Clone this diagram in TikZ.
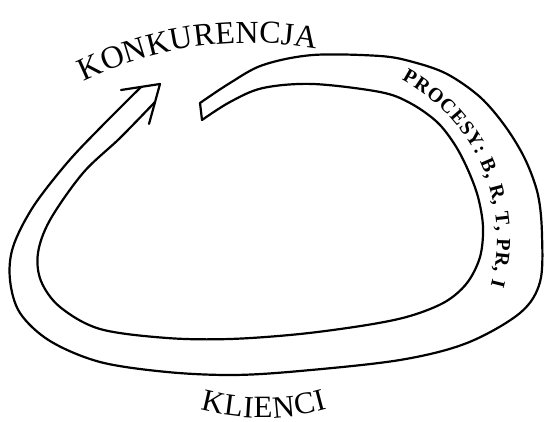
\documentclass[tikz,border=0pt]{standalone}
\usepackage{fontspec}
\setmainfont{Liberation Serif}
\usetikzlibrary{decorations.text}

\begin{document}
\begin{tikzpicture}[x=1pt, y=1pt, band/.style={line width=2.2pt, line join=round, line cap=round},
  curved/.style={decorate, decoration={text along path, text align=fit to path, text={#1}}}]
\useasboundingbox (0,0) rectangle (545,422);
% arrow head and flat tail of the loop
\coordinate (lb) at (121,332);
\coordinate (tip) at (160,338);
\coordinate (rb) at (149,298);
\coordinate (tailo) at (200,319);
\coordinate (taili) at (202,302);
\draw[band] (lb) -- (tip) -- (rb);
\draw[band] (tailo) -- (taili);
% outer and inner edge of the band
\draw[band] plot[smooth, tension=0.55] coordinates {(141,335) (100,294) (67,259) (33,215) (13,175) (10,142) (20,109) (50,81) (100,60) (167,50) (233,47) (300,51) (400,62) (467,79) (520,109) (540,140) (542,187) (538,227) (525,263) (505,296) (480,325) (447,348) (413,360) (380,366) (313,367) (263,357) (230,339) (200,319)};
\draw[band] plot[smooth, tension=0.55] coordinates {(155,320) (120,284) (83,249) (50,202) (38,169) (41,141) (60,115) (100,93) (167,84) (230,83) (300,88) (367,97) (410,106) (445,120) (467,139) (480,165) (483,195) (478,225) (468,252) (455,277) (437,300) (410,319) (380,330) (313,338) (263,334) (230,320) (202,302)};
% labels
\path[curved={|\fontsize{32}{32}\selectfont|KONKURENCJA}] ([shift={(250,0)}]116:379) arc[start angle=116, end angle=80, radius=379];
\path[curved={|\bfseries\fontsize{20}{20}\selectfont|PROCESY: B, R, T, PR, I}] ([shift={(317,183)}]62:180) arc[start angle=62, end angle=-15, radius=180];
\path[curved={|\fontsize{31}{31}\selectfont|KLIENCI}] ([shift={(263,237)}]254.5:233) arc[start angle=254.5, end angle=286, radius=233];
\end{tikzpicture}
\end{document}
